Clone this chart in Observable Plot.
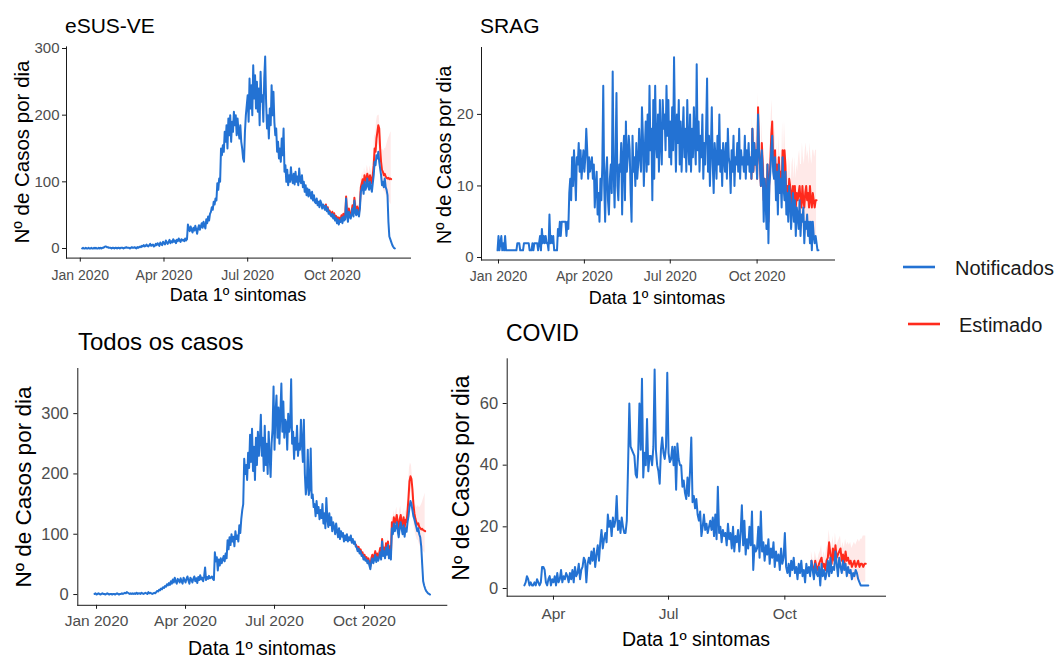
<!DOCTYPE html>
<html lang="pt-BR">
<head>
<meta charset="utf-8">
<title>Casos por dia – notificados e estimados</title>
<script src="https://cdn.jsdelivr.net/npm/d3@7"></script>
<script src="https://cdn.jsdelivr.net/npm/@observablehq/plot@0.6"></script>
<style>
  html, body { margin: 0; padding: 0; background: #fff; }
  #chart { position: relative; width: 1063px; height: 659px; overflow: hidden; background: #fff;
           font-family: "Liberation Sans", Arial, Helvetica, sans-serif; }
  #chart .panel { position: absolute; }
  #chart .panel svg text { fill: #4d4d4d; }
  #chart .top [aria-label="y-axis tick label"] text,
  #chart .top [aria-label="y-axis"] text { font-size: 15px; }
  #chart .bottom [aria-label="y-axis tick label"] text,
  #chart .bottom [aria-label="y-axis"] text { font-size: 16.5px; }
  #chart svg.overlay { position: absolute; left: 0; top: 0; pointer-events: none; }
</style>
</head>
<body>
<div id="chart"></div>
<script>
// ---- eSUS-VE: casos diários notificados, estimativa (nowcasting) e intervalo ----
const esusInicio = "2020-01-03";
const esusNotificados = [
  0,1,0,0,1,0,0,1,0,0, 1,0,0,1,0,1,0,0,1,0, 1,0,1,1,2,3,3,2,2,1, 1,1,0,1,1,0,1,1,0,1,
  1,0,1,1,1,0,1,1,2,1, 1,1,0,1,2,1,1,2,1,0, 2,1,2,3,2,4,3,5,3,4, 6,4,3,5,7,4,5,6,3,4,
  7,5,8,6,4,9,7,5,10,8, 6,12,9,7,10,13,8,11,9,14, 10,12,8,13,11,15,12,10,14,12,
  13,11,15,12,14,36,30,26,33,28, 24,31,27,34,29,22,30,35,28,33, 38,31,40,35,30,44,38,48,42,52,
  55,62,58,70,66,75,72,98,88,105, 100,150,140,155,145,175,160,185,150,195,
  170,200,160,190,175,205,185,200,170,195, 175,165,185,160,150,135,130,175,200,215,
  230,190,255,210,245,200,275,225,260,210, 250,205,240,185,265,220,230,190,255,288,
  220,180,200,165,210,185,245,200,235,190, 170,180,145,160,135,150,130,165,140,180,
  115,125,100,118,95,110,100,122,105,98, 112,96,115,100,108,95,120,102,98,110,
  92,100,85,95,80,90,78,88,82,75, 85,72,80,70,68,75,65,70,62,72, 68,60,66,62,58,64,56,60,52,55,
  50,48,52,45,50,42,46,38,44,36, 42,40,46,38,48,42,44,75,50,40, 55,48,45,52,60,48,72,55,50,58,
  52,48,60,85,90,95,82,100,88,92, 105,95,88,100,92,85,98,110,130,125,
  140,135,145,130,120,110,95,100,92,105, 92,88,80,40,18,14,10,6,3,1,0
];
const esusEstInicio = "2020-09-22";
const esusEstimado = [
  64,60,66,58,62,55,57, 53,50,55,48,53,46,49,42,47,40, 46,44,50,42,52,46,48,78,54,45,
  60,52,50,56,65,53,76,60,55,63, 58,54,66,92,98,104,92,110,100,104,
  112,106,100,110,104,98,110,125,150,145, 165,175,185,180,150,130,118,115,110,112,
  108,106,105,106,104,105,104
];
const esusIcInicio = "2020-10-17";
const esusIcInf = [
  50,41,55,48,46,51,60,49,70,55, 50,58,53,49,60,84,89,94,83,99, 90,93,100,94,88,97,91,85,96,109,
  130,125,142,150,158,152,125,107,96,92, 86,86,82,78,76,74,70,68,66
];
const esusIcSup = [
  59,50,66,57,55,62,71,58,83,66, 61,69,64,60,73,101,108,115,102,122, 111,116,125,119,113,124,118,112,126,143,
  172,168,190,198,200,200,176,158,148,148, 146,150,150,155,160,165,168,172,175
];

// ---- SRAG ----
const sragInicio = "2019-12-31";
const sragNotificados = [
  1,3,1,2,3,1,2,1,3,1, 1,1,1,1,1,1,1,1,1,1, 1,2,2,2,1,1,1,1,2,2, 2,2,2,2,1,1,1,2,1,2,
  2,2,2,1,2,3,1,4,2,3, 2,3,2,2,1,6,2,3,2,3, 1,1,1,1,4,3,5,3,5,5, 5,5,5,3,5,4,9,11,8,14,
  10,15,12,8,14,13,16,12,15,11, 13,15,12,14,18,15,11,14,12,13, 14,11,13,7,10,12,6,9,5,11,
  8,13,24,10,5,12,14,8,6,11, 13,9,26,12,7,14,23,10,8,13, 12,16,6,14,17,8,19,12,14,17,
  15,9,5,17,12,14,10,16,11,13, 18,14,12,21,17,10,15,19,12,20, 13,24,15,18,8,22,11,24,16,14,
  20,12,22,16,13,22,18,20,15,24, 17,22,14,19,13,21,15,28,18,12, 20,16,22,13,19,12,17,21,14,18,
  12,22,16,13,20,12,18,14,21,16, 13,27,15,19,12,17,14,20,11,16, 13,18,25,12,17,10,15,21,13,9,
  16,14,11,17,13,20,12,15,10,16, 14,12,16,11,18,14,13,9,15,12, 17,10,14,13,16,12,18,11,15,13,
  14,12,17,11,15,13,16,12,14,11, 18,12,16,13,15,11,20,15,13,10, 15,12,5,11,8,4,13,2,10,12,
  15,17,12,11,14,8,12,6,13,9, 11,7,14,10,8,12,6,9,5,10, 8,4,7,9,5,8,3,7,6,4,
  8,3,6,5,7,2,5,4,6,3, 5,2,5,1,5,3,2,3,2,1, 1
];
const sragEstInicio = "2020-09-25";
const sragEstimado = [
  11,18,12,16,13,15,11,21,15,13, 10,16,13,8,11,9,6,13,5,11, 13,17,19,13,14,15,10,13,9,14,
  11,12,9,15,11,15,13,8,10,8, 11,10,7,9,10,8,10,7,9,8, 9,10,8,7,10,8,7,9,10,8,
  9,7,10,8,7,9,8,7,8,8
];
const sragIcInicio = "2020-09-25";
const sragIcInf = [
  10,16,11,14,12,13,10,19,13,11, 9,14,11,7,10,8,5,11,4,10, 11,15,16,11,12,12,8,10,7,11,
  9,10,7,12,9,11,10,6,8,6, 8,7,5,6,7,5,6,5,6,4, 5,6,4,3,5,4,3,4,5,3,
  4,3,4,3,2,3,3,2,3,3
];
const sragIcSup = [
  13,20,14,18,15,17,13,23,17,15, 12,19,16,10,13,11,9,16,8,14, 16,20,22,16,17,18,13,16,12,17,
  14,15,12,19,14,19,16,11,13,11, 14,13,10,13,14,11,14,11,13,12, 14,15,13,13,16,14,13,15,16,14,
  15,13,16,14,13,15,15,14,15,15
];

// ---- Todos os casos ----
const todosInicio = "2019-12-30";
const todosNotificados = [
  1,2,0,1,2,1,0,1,2,1, 1,0,1,2,1,0,1,1,0,1, 1,0,1,2,1,0,1,1,2,1, 2,3,2,4,3,2,1,2,1,2,
  1,2,1,3,1,2,2,1,3,2, 1,2,3,2,1,4,2,3,2,1, 2,3,2,4,6,5,8,7,10,9, 12,11,14,13,17,15,19,16,22,18,
  25,20,28,22,18,26,24,20,27,22, 18,28,24,20,26,30,23,18,28,25, 20,26,30,22,27,19,29,24,32,25,
  28,22,30,45,24,29,26,31,27,28, 30,26,24,70,55,62,40,58,48,60, 52,58,64,55,68,60,90,75,95,82,
  100,88,96,80,105,92,98,88,115,102, 125,140,150,225,200,215,190,235,210,265,
  220,275,205,245,190,260,215,270,230,255, 298,230,260,205,280,215,250,200,270,230,
  195,250,275,345,240,300,330,260,310,250, 300,350,270,320,260,290,285,240,300,270,
  280,357,250,270,225,260,240,280,230,250, 240,290,250,220,290,200,166,180,240,165,
  175,242,160,166,145,150,130,155,135,145, 125,140,127,150,118,135,110,160,125,112,
  135,115,128,105,120,112,100,118,105,95, 110,92,105,96,102,88,98,90,100,88,
  95,90,98,86,92,84,88,80,78,72, 76,68,72,64,66,58,62,56,58,52, 56,48,42,55,60,52,58,66,54,62,
  56,62,70,58,88,64,72,60,78,66, 82,60,74,58,110,100,118,105,112,120,
  105,95,112,120,108,100,115,96,110,104, 120,130,145,155,150,140,130,125,118,112,
  105,110,100,95,80,50,22,15,10,6, 4,2,1,0
];
const todosEstInicio = "2020-09-22";
const todosEstimado = [
  83,80,75, 79,71,75,68,70,62,66,60,62,56, 60,53,47,60,66,57,64,72,60,68,
  62,68,77,64,92,70,78,66,85,72, 88,66,80,65,120,112,128,118,124,132,
  118,108,125,132,120,114,128,110,124,120, 138,160,188,196,192,175,150,135,126,120,
  116,118,112,110,108,109,107,106,105
];
const todosIcInicio = "2020-10-17";
const todosIcInf = [
  71,58,85,64,71,60,78,66,80,60, 72,58,110,102,117,107,112,119,106,96,
  111,117,106,100,113,96,108,104,120,140, 166,172,168,152,128,112,102,96,90,90,
  84,80,76,74,72,70,68
];
const todosIcSup = [
  83,70,99,76,85,72,92,78,96,73, 88,72,130,122,139,129,136,145,130,120,
  139,147,134,128,143,124,140,136,156,180, 210,218,214,196,172,158,150,146,144,148,
  144,145,148,152,157,162,168
];

// ---- COVID ----
const covidInicio = "2020-03-09";
const covidNotificados = [
  1,2,4,3,1,2,1,1,2,1, 3,2,1,2,7,7,6,2,1,3, 4,1,3,2,4,1,5,2,3,6, 2,4,3,5,4,2,5,3,6,2,
  7,4,5,8,3,6,7,10,9,2, 8,10,8,12,9,13,7,11,14,9, 15,19,13,16,18,15,24,20,22,17,
  23,20,22,30,19,22,18,23,20,18, 18,22,40,60,46,45,44,43,37,36, 44,60,45,68,36,44,40,55,38,43,
  43,40,46,71,45,40,38,34,45,49, 44,42,46,70,44,41,42,46,40,46, 32,47,42,40,40,33,35,31,29,36,
  30,38,49,28,30,26,29,24,22,25, 17,20,24,19,21,18,20,22,19,23, 17,24,16,33,18,20,15,19,17,18,
  14,21,16,18,13,20,12,17,15,19, 12,18,27,14,22,11,16,13,20,14, 25,6,14,12,13,20,10,25,12,15,
  9,14,11,16,8,13,10,15,7,12, 9,11,6,13,8,10,18,7,5,8, 4,9,6,10,5,7,3,8,5,9,
  4,6,2,8,5,7,4,9,6,3, 8,5,4,7,1,8,4,6,3,5, 9,4,10,5,7,6,12,8,4,10,
  7,5,9,6,8,4,7,5,6,3, 5,4,6,5,3,2,1,1,1,1, 1,1,1
];
const covidEstInicio = "2020-10-22";
const covidEstimado = [
  9,7,5,9,7,6,8,9,10,7, 8,6,9,10,15,11,8,13,9,14, 10,11,12,13,9,11,8,12,9,10,
  8,9,7,8,9,7,8,9,7,8, 8,7,8,8
];
const covidIcInicio = "2020-10-22";
const covidIcInf = [
  7,5,3,7,5,4,6,7,8,5, 5,4,6,7,11,8,5,9,6,10, 6,7,8,8,5,6,4,7,4,5,
  3,4,3,3,3,2,3,3,2,2, 2,2,2,2
];
const covidIcSup = [
  12,10,8,12,10,9,11,12,14,10, 12,10,13,14,19,15,12,17,13,18, 14,15,16,17,13,15,13,16,14,15,
  14,15,13,14,15,14,15,16,15,16, 16,17,17,17
];

// ---- eixos e rótulos ----
const ticksMes = ["2020-01-01", "2020-04-01", "2020-07-01", "2020-10-01"];
const rotulosMes = ["Jan 2020", "Apr 2020", "Jul 2020", "Oct 2020"];
const ticksMesCovid = ["2020-04-01", "2020-07-01", "2020-10-01"];
const rotulosMesCovid = ["Apr", "Jul", "Oct"];
const esusTicksY = [0, 100, 200, 300];
const sragTicksY = [0, 10, 20];
const todosTicksY = [0, 100, 200, 300];
const covidTicksY = [0, 20, 40, 60];
const titulos = ["eSUS-VE", "SRAG", "Todos os casos", "COVID"];
const rotuloX = "Data 1º sintomas";
const rotuloY = "Nº de Casos por dia";
const legenda = ["Notificados", "Estimado"];

const AZUL = "#2372d3";
const VERMELHO = "#ff2a1c";
const FONTE = '"Liberation Sans", Arial, Helvetica, sans-serif';
const DIA = 864e5;

function serie(inicio, valores) {
  const t0 = Date.parse(inicio);
  return valores.map((v, i) => ({date: new Date(t0 + i * DIA), value: v}));
}
function faixa(inicio, inf, sup) {
  const t0 = Date.parse(inicio);
  return inf.map((v, i) => ({date: new Date(t0 + i * DIA), lo: v, hi: sup[i]}));
}
// ggplot-style 5% expansion of a continuous range
function expande([a, b]) { const k = (b - a) * 0.05; return [a - k, b + k]; }

const paineis = [
  {notif: serie(esusInicio, esusNotificados), est: serie(esusEstInicio, esusEstimado),
   ic: faixa(esusIcInicio, esusIcInf, esusIcSup), yTicks: esusTicksY, xTicks: ticksMes, xRot: rotulosMes,
   box: {left: 0, top: 0, w: 430, h: 310}, m: {l: 66, r: 20, t: 46.4, b: 52.4},
   fonte: 14, padX: 8, padY: 3, linha: "top"},
  {notif: serie(sragInicio, sragNotificados), est: serie(sragEstInicio, sragEstimado),
   ic: faixa(sragIcInicio, sragIcInf, sragIcSup), yTicks: sragTicksY, xTicks: ticksMes, xRot: rotulosMes,
   box: {left: 430, top: 0, w: 430, h: 310}, m: {l: 51, r: 26, t: 47, b: 50.5},
   fonte: 14, padX: 7, padY: 4, linha: "top"},
  {notif: serie(todosInicio, todosNotificados), est: serie(todosEstInicio, todosEstimado),
   ic: faixa(todosIcInicio, todosIcInf, todosIcSup), yTicks: todosTicksY, xTicks: ticksMes, xRot: rotulosMes,
   box: {left: 0, top: 320, w: 450, h: 339}, m: {l: 77.3, r: 3.7, t: 48, b: 54.2},
   fonte: 15.5, padX: 6, padY: 5, linha: "bottom"},
  {notif: serie(covidInicio, covidNotificados), est: serie(covidEstInicio, covidEstimado),
   ic: faixa(covidIcInicio, covidIcInf, covidIcSup), yTicks: covidTicksY, xTicks: ticksMesCovid, xRot: rotulosMesCovid,
   box: {left: 450, top: 320, w: 450, h: 339}, m: {l: 56.7, r: 15, t: 38.3, b: 63.3},
   fonte: 15.5, padX: 8, padY: 5, linha: "bottom"}
];

const chart = document.getElementById("chart");

for (const p of paineis) {
  const datas = [...p.notif, ...p.est, ...p.ic].map(d => +d.date);
  const valores = [...p.notif.map(d => d.value), ...p.est.map(d => d.value),
                   ...p.ic.map(d => d.lo), ...p.ic.map(d => d.hi)];
  const xDom = expande(d3.extent(datas)).map(t => new Date(t));
  const yDom = expande(d3.extent(valores));
  const tickDatas = p.xTicks.map(s => Date.parse(s));

  const svg = Plot.plot({
    width: p.box.w,
    height: p.box.h,
    marginLeft: p.m.l, marginRight: p.m.r, marginTop: p.m.t, marginBottom: p.m.b,
    style: {background: "transparent", fontSize: p.fonte + "px", fontFamily: FONTE,
            color: "#1a1a1a", overflow: "visible"},
    x: {type: "utc", domain: xDom, ticks: tickDatas.map(t => new Date(t)),
        tickFormat: d => p.xRot[tickDatas.indexOf(+d)], tickSize: 4, tickPadding: p.padX,
        line: true, label: null},
    y: {domain: yDom, ticks: p.yTicks, tickFormat: d => String(d), tickSize: 4,
        tickPadding: p.padY, line: true, label: null},
    marks: [
      Plot.areaY(p.ic, {x: "date", y1: "lo", y2: "hi", fill: VERMELHO, fillOpacity: 0.1}),
      Plot.lineY(p.est, {x: "date", y: "value", stroke: VERMELHO, strokeWidth: 2}),
      Plot.lineY(p.notif, {x: "date", y: "value", stroke: AZUL, strokeWidth: 2})
    ]
  });
  const wrap = document.createElement("div");
  wrap.className = "panel " + p.linha;
  wrap.style.left = p.box.left + "px";
  wrap.style.top = p.box.top + "px";
  wrap.appendChild(svg);
  chart.appendChild(wrap);
}

// Titles, axis titles and the shared legend
const sobre = d3.select(chart).append("svg")
  .attr("class", "overlay").attr("width", 1063).attr("height", 659)
  .style("font-family", FONTE);

const tituloPos = [
  {x: 65, y: 33, s: 21}, {x: 480, y: 33, s: 21}, {x: 78, y: 350, s: 24}, {x: 506, y: 341, s: 23}
];
titulos.forEach((t, i) => {
  const q = tituloPos[i];
  sobre.append("text").attr("x", q.x).attr("y", q.y).attr("font-size", q.s)
    .attr("fill", "#000").text(t);
});

const xLabPos = [
  {x: 238, y: 301, s: 18}, {x: 657, y: 304, s: 18}, {x: 262, y: 655, s: 19.5}, {x: 696, y: 646, s: 19.5}
];
xLabPos.forEach(q => {
  sobre.append("text").attr("x", q.x).attr("y", q.y).attr("font-size", q.s)
    .attr("text-anchor", "middle").attr("fill", "#000").text(rotuloX);
});

const yLabPos = [
  {x: 29, y: 152, s: 20.5}, {x: 451, y: 155, s: 20}, {x: 30.5, y: 487, s: 22.5}, {x: 468.5, y: 478, s: 23}
];
yLabPos.forEach(q => {
  sobre.append("text").attr("transform", `translate(${q.x},${q.y}) rotate(-90)`)
    .attr("font-size", q.s).attr("text-anchor", "middle").attr("fill", "#000").text(rotuloY);
});

const legPos = [
  {x1: 903, x2: 935, y: 267, tx: 955, ty: 275, cor: AZUL},
  {x1: 908, x2: 940, y: 324, tx: 959, ty: 331.5, cor: VERMELHO}
];
legenda.forEach((t, i) => {
  const q = legPos[i];
  sobre.append("line").attr("x1", q.x1).attr("x2", q.x2).attr("y1", q.y).attr("y2", q.y)
    .attr("stroke", q.cor).attr("stroke-width", 2.6);
  sobre.append("text").attr("x", q.tx).attr("y", q.ty).attr("font-size", 20)
    .attr("fill", "#1a1a1a").text(t);
});
</script>
</body>
</html>
